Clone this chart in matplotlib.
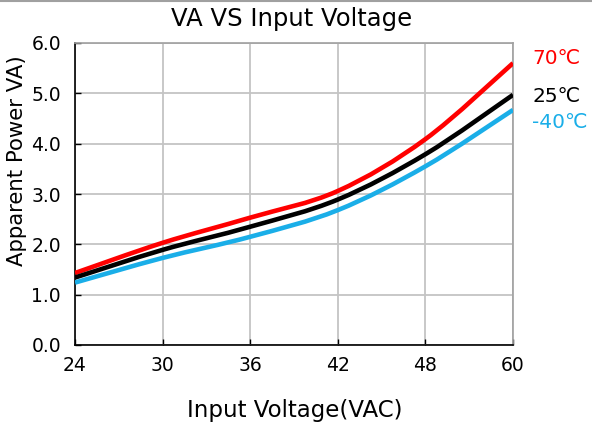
import matplotlib
matplotlib.use("Agg")
import matplotlib.pyplot as plt
from matplotlib.path import Path
from matplotlib.patches import PathPatch
from matplotlib.lines import Line2D
import numpy as np

voltages = ["24", "30", "36", "42", "48", "60"]
va_70 = [1.43, 2.03, 2.53, 3.06, 4.09, 5.60]
va_25 = [1.34, 1.89, 2.35, 2.89, 3.79, 4.97]
va_m40 = [1.24, 1.73, 2.15, 2.68, 3.55, 4.67]
series_labels = ["70℃", "25℃", "-40℃"]
colors = ["#ff0000", "#000000", "#1aaee8"]

fig = plt.figure(figsize=(5.92, 4.25), dpi=100)
ax = fig.add_axes([75/592, 1-345/425, (513-75)/592, (345-43)/425])

x = np.arange(len(voltages))


def smooth_path(xs, ys):
    xs = np.asarray(xs, float)
    ys = np.asarray(ys, float)
    n = len(xs)
    verts = [(xs[0], ys[0])]
    codes = [Path.MOVETO]
    for i in range(n - 1):
        p0 = np.array([xs[max(i-1, 0)], ys[max(i-1, 0)]])
        p1 = np.array([xs[i], ys[i]])
        p2 = np.array([xs[i+1], ys[i+1]])
        p3 = np.array([xs[min(i+2, n-1)], ys[min(i+2, n-1)]])
        c1 = p1 + (p2 - p0) / 6.0
        c2 = p2 - (p3 - p1) / 6.0
        verts += [tuple(c1), tuple(c2), tuple(p2)]
        codes += [Path.CURVE4] * 3
    return Path(verts, codes)


for ys, c in zip([va_70, va_25, va_m40], colors):
    patch = PathPatch(smooth_path(x, ys), facecolor="none", edgecolor=c,
                      lw=3.3, capstyle="butt", zorder=3)
    ax.add_patch(patch)

ax.set_xlim(0, len(voltages) - 1)
ax.set_ylim(0, 6)
ax.set_xticks(x)
ax.set_xticklabels(voltages)
ax.set_yticks(np.arange(0, 6.01, 1.0))
ax.set_yticklabels([f"{v:.1f}" for v in np.arange(0, 6.01, 1.0)])
ax.grid(True, color="#c4c4c4", lw=1.3)
ax.set_axisbelow(True)
ax.tick_params(direction="in", length=4, width=1, labelsize=13.5, colors="#000000")
ax.tick_params(axis="x", pad=8)
ax.tick_params(axis="y", pad=10)
for s in ["left", "bottom"]:
    ax.spines[s].set_color("#000000")
    ax.spines[s].set_linewidth(1.2)
for s in ["top", "right"]:
    ax.spines[s].set_color("#a0a0a0")
    ax.spines[s].set_linewidth(1.2)

fig.text(292/592, 1-19/425, "VA VS Input Voltage", ha="center", va="center", fontsize=17.5)
fig.text(295/592, 1-410/425, "Input Voltage(VAC)", ha="center", va="center", fontsize=16.5)
fig.text(17/592, 1-161/425, "Apparent Power VA)", ha="center", va="center",
         fontsize=15.3, rotation=90)

label_y = [59, 97, 123]
for lab, c, yy in zip(series_labels, colors, label_y):
    fig.text(532/592, 1-yy/425, lab, ha="left", va="center", fontsize=14.5, color=c)

fig.add_artist(Line2D([0, 1], [1-0.5/425, 1-0.5/425], color="#a0a0a0", lw=1.5,
                      transform=fig.transFigure))

fig.savefig("out.png", dpi=100)
